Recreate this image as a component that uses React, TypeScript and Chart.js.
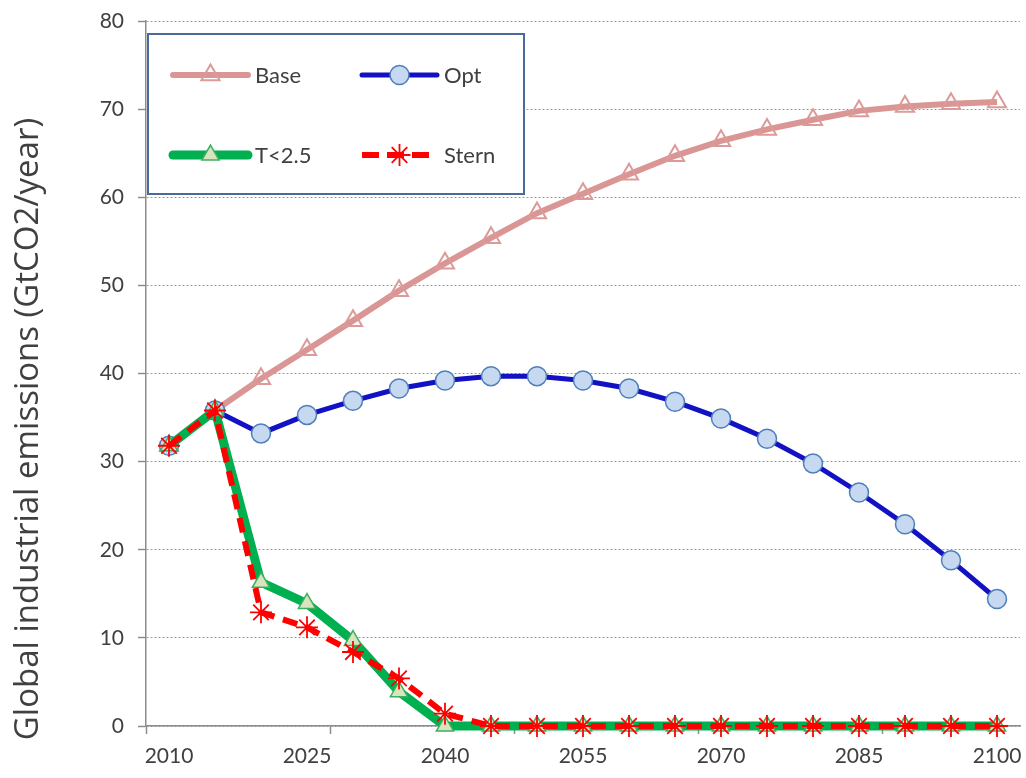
import React, { useEffect, useRef } from 'react';
import { Chart, registerables } from 'chart.js';
import { drawPoint } from 'chart.js/helpers';

Chart.register(...registerables);

const years = ['2010','2015','2020','2025','2030','2035','2040','2045','2050','2055','2060','2065','2070','2075','2080','2085','2090','2095','2100'];
const tickLabels = ['2010','2025','2040','2055','2070','2085','2100'];
const baseValues = [31.8, 35.8, 39.4, 42.7, 46.0, 49.4, 52.5, 55.4, 58.2, 60.4, 62.6, 64.7, 66.4, 67.7, 68.8, 69.8, 70.3, 70.6, 70.8];
const optValues = [31.8, 35.8, 33.2, 35.3, 36.9, 38.3, 39.2, 39.7, 39.7, 39.2, 38.3, 36.8, 34.9, 32.6, 29.8, 26.5, 22.9, 18.8, 14.4];
const t25Values = [31.8, 35.8, 16.3, 13.9, 9.7, 3.9, 0, 0, 0, 0, 0, 0, 0, 0, 0, 0, 0, 0, 0];
const sternValues = [31.8, 35.8, 12.9, 11.2, 8.4, 5.4, 1.4, 0, 0, 0, 0, 0, 0, 0, 0, 0, 0, 0, 0];
const yTitle = 'Global industrial emissions (GtCO2/year)';
const FONT = 'Lato';
const TEXT = '#404040';

const overlayPlugin = {
  id: 'overlay',
  afterDraw(chart: any) {
    const ctx: CanvasRenderingContext2D = chart.ctx;
    const area = chart.chartArea;
    // y title
    ctx.save();
    ctx.translate(29, 429);
    ctx.rotate(-Math.PI / 2);
    ctx.font = `33px "Open Sans"`;
    ctx.fillStyle = TEXT;
    ctx.textAlign = 'center';
    ctx.textBaseline = 'middle';
    ctx.fillText(yTitle, 0, 0);
    ctx.restore();

    // legend box
    const bx = area.left + 2;
    const by = area.top + 13;
    const bw = 376;
    const bh = 160;
    ctx.save();
    ctx.fillStyle = '#ffffff';
    ctx.fillRect(bx, by, bw, bh);
    ctx.strokeStyle = '#4A6A9A';
    ctx.lineWidth = 2;
    ctx.strokeRect(bx, by, bw, bh);
    ctx.restore();

    const cols = [bx + 25, bx + 214];
    const rows = [by + 41, by + 121];
    chart.data.datasets.forEach((ds: any, i: number) => {
      const x0 = cols[i % 2];
      const y0 = rows[Math.floor(i / 2)];
      const len = 75;
      ctx.save();
      ctx.strokeStyle = ds.borderColor;
      ctx.lineWidth = ds.borderWidth;
      ctx.lineCap = ds.borderDash ? 'butt' : 'round';
      ctx.setLineDash(ds.borderDash ? [17, 8] : []);
      ctx.beginPath();
      ctx.moveTo(x0, y0);
      ctx.lineTo(x0 + len, y0);
      ctx.stroke();
      ctx.setLineDash([]);
      ctx.fillStyle = ds.pointBackgroundColor;
      ctx.strokeStyle = ds.pointBorderColor;
      ctx.lineWidth = ds.pointBorderWidth;
      drawPoint(ctx, { pointStyle: ds.pointStyle, radius: ds.pointRadius, rotation: 0, borderWidth: ds.pointBorderWidth } as any, x0 + len / 2, y0);
      ctx.font = `22px ${FONT}`;
      ctx.fillStyle = TEXT;
      ctx.textAlign = 'left';
      ctx.textBaseline = 'middle';
      ctx.fillText(ds.label, x0 + len + 7, y0 + 1);
      ctx.restore();
    });
  },
};

export default function App() {
  const ref = useRef<HTMLCanvasElement | null>(null);
  useEffect(() => {
    document.body.style.margin = '0';
    if (!ref.current) return;
    const chart = new Chart(ref.current, {
      type: 'line',
      data: {
        labels: years,
        datasets: [
          {
            label: 'Base', data: baseValues, order: 3,
            borderColor: '#D99694', borderWidth: 6, tension: 0,
            pointStyle: 'triangle', pointRadius: 10.5, pointBorderWidth: 2,
            pointBackgroundColor: 'rgba(255,255,255,0)', pointBorderColor: '#DC9A98',
            clip: false,
          } as any,
          {
            label: 'Opt', data: optValues, order: 2,
            borderColor: '#1212C4', borderWidth: 5, tension: 0,
            pointStyle: 'circle', pointRadius: 9.5, pointBorderWidth: 1.5,
            pointBackgroundColor: '#C6D9F1', pointBorderColor: '#4F7FBB',
            clip: false,
          },
          {
            label: 'T<2.5', data: t25Values, order: 1,
            borderColor: '#00B050', borderWidth: 9, tension: 0,
            pointStyle: 'triangle', pointRadius: 10, pointBorderWidth: 1.5,
            pointBackgroundColor: '#D7E4BD', pointBorderColor: '#3FAF5F',
            clip: false,
          },
          {
            label: 'Stern', data: sternValues, order: 0,
            borderColor: '#FF0000', borderWidth: 6, borderDash: [15, 9], tension: 0,
            pointStyle: 'star', pointRadius: 11, pointBorderWidth: 1.8,
            pointBackgroundColor: '#FF0000', pointBorderColor: '#FF0000',
            clip: false,
          },
        ],
      },
      options: {
        responsive: false,
        animation: false,
        layout: { autoPadding: false, padding: { top: 21, right: 6, bottom: 0, left: 0 } },
        plugins: { legend: { display: false }, tooltip: { enabled: false } },
        scales: {
          x: {
            type: 'category',
            offset: true,
            afterFit: (s: any) => { s.height = 52; },
            grid: {
              offset: true,
              drawOnChartArea: false,
              drawTicks: true,
              tickLength: 8,
              tickWidth: 1.5,
              color: (c: any) => (c.index !== undefined && c.index % 4 === 0 ? '#8C8C8C' : 'rgba(0,0,0,0)'),
              tickColor: (c: any) => (c.index !== undefined && c.index % 4 === 0 ? '#8C8C8C' : 'rgba(0,0,0,0)'),
            },
            border: { display: true, color: '#8C8C8C', width: 1.5 },
            ticks: {
              autoSkip: false,
              maxRotation: 0,
              padding: 0,
              color: TEXT,
              font: { family: FONT, size: 21, lineHeight: 2.15 },
              callback: (_v: any, i: number) => (tickLabels.includes(years[i]) ? years[i] : ''),
            },
          },
          y: {
            min: 0,
            max: 80,
            afterFit: (s: any) => { s.width = 146; s.paddingTop = 0; s.paddingBottom = 0; },
            grid: {
              color: '#9A9A9A',
              lineWidth: 1,
              tickLength: 8,
              tickColor: '#8C8C8C',
              tickWidth: 1.5,
            },
            border: { display: true, color: '#8C8C8C', width: 1.5, dash: [2, 2] },
            ticks: {
              stepSize: 10,
              padding: 14,
              color: TEXT,
              font: { family: FONT, size: 21 },
            },
          },
        },
      },
      plugins: [overlayPlugin],
    });
    return () => chart.destroy();
  }, []);
  return (
    <div style={{ position: 'absolute', left: 0, top: 0, width: 1026, height: 778, background: '#fff' }}>
      <canvas ref={ref} width={1026} height={778} style={{ display: 'block' }} />
    </div>
  );
}
